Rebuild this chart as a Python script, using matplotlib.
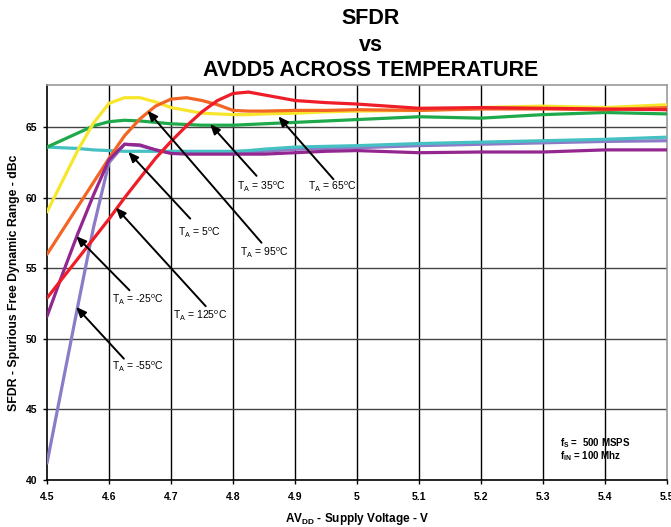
import matplotlib
matplotlib.use("Agg")
import matplotlib.pyplot as plt

plt.rcParams['font.family'] = ['Liberation Sans', 'DejaVu Sans']
plt.rcParams['mathtext.fontset'] = 'custom'
plt.rcParams['mathtext.rm'] = 'Liberation Sans'
plt.rcParams['mathtext.it'] = 'Liberation Sans:italic'
plt.rcParams['mathtext.bf'] = 'Liberation Sans:bold'

# ---------------- data ----------------
voltage = [4.50, 4.525, 4.55, 4.575, 4.60, 4.625, 4.65, 4.675, 4.70, 4.725, 4.75, 4.775,
           4.80, 4.825, 4.85, 4.90, 4.95, 5.0, 5.1, 5.2, 5.3, 5.4, 5.5]

sfdr_m55 = [41.2, 46.8, 52.4, 57.9, 62.5, 63.8, 63.7, 63.4, 63.2, 63.2, 63.2, 63.2,
            63.2, 63.25, 63.3, 63.45, 63.5, 63.55, 63.7, 63.8, 63.9, 64.0, 64.05]
sfdr_m25 = [51.6, 54.6, 57.5, 60.2, 62.7, 63.8, 63.75, 63.4, 63.15, 63.1, 63.1, 63.1,
            63.1, 63.1, 63.1, 63.2, 63.3, 63.35, 63.2, 63.25, 63.25, 63.4, 63.4]
sfdr_5 = [63.6, 63.55, 63.5, 63.4, 63.35, 63.3, 63.3, 63.3, 63.3, 63.3, 63.3, 63.3,
          63.3, 63.35, 63.45, 63.6, 63.65, 63.7, 63.85, 63.95, 64.05, 64.15, 64.3]
sfdr_35 = [63.6, 64.1, 64.6, 65.1, 65.4, 65.5, 65.45, 65.35, 65.25, 65.2, 65.15, 65.15,
           65.15, 65.2, 65.25, 65.35, 65.45, 65.55, 65.75, 65.65, 65.9, 66.05, 65.95]
sfdr_65 = [59.0, 61.2, 63.4, 65.3, 66.7, 67.1, 67.1, 66.8, 66.4, 66.2, 66.0, 65.95,
           65.9, 65.9, 65.95, 66.0, 66.1, 66.15, 66.2, 66.4, 66.5, 66.4, 66.6]
sfdr_95 = [56.0, 57.7, 59.4, 61.1, 62.8, 64.4, 65.6, 66.5, 67.0, 67.1, 66.9, 66.6,
           66.2, 66.15, 66.15, 66.2, 66.2, 66.25, 66.2, 66.3, 66.3, 66.25, 66.4]
sfdr_125 = [52.9, 54.3, 55.7, 57.1, 58.5, 60.0, 61.4, 62.8, 64.0, 65.1, 66.1, 66.9,
            67.4, 67.5, 67.3, 66.9, 66.75, 66.65, 66.35, 66.4, 66.35, 66.3, 66.25]

temps = ["-55", "-25", "5", "35", "65", "95", "125"]
x_ticks = [4.5, 4.6, 4.7, 4.8, 4.9, 5.0, 5.1, 5.2, 5.3, 5.4, 5.5]
x_tick_labels = ["4.5", "4.6", "4.7", "4.8", "4.9", "5", "5.1", "5.2", "5.3", "5.4", "5.5"]
y_ticks = [40, 45, 50, 55, 60, 65]

# ---------------- figure ----------------
fig = plt.figure(figsize=(6.71, 5.27), dpi=100)
ax = fig.add_axes([47 / 671, 1 - 480 / 527, 620 / 671, 395 / 527])

series = [
    (sfdr_m55, '#8C7BC6'),
    (sfdr_5, '#45C1C3'),
    (sfdr_35, '#1EA94B'),
    (sfdr_65, '#F7E62B'),
    (sfdr_95, '#F26524'),
    (sfdr_m25, '#93278F'),
    (sfdr_125, '#EE1D27'),
]
for vals, col in series:
    ax.plot(voltage, vals, color=col, lw=2.3, solid_capstyle='round', zorder=3)

ax.set_xlim(4.5, 5.5)
ax.set_ylim(40, 68)
ax.set_xticks(x_ticks)
ax.set_xticklabels(x_tick_labels)
ax.set_yticks(y_ticks)
for t in ax.get_xticklabels() + ax.get_yticklabels():
    t.set_fontweight('bold')
    t.set_fontsize(7.5)
ax.tick_params(axis='x', direction='out', length=3, width=1, color='black', pad=6)
ax.tick_params(axis='y', direction='out', length=3, width=1, color='black', pad=4)

for xv in x_ticks[1:-1]:
    ax.axvline(xv, color='black', lw=1.0, zorder=1)
for yv in y_ticks[1:]:
    ax.axhline(yv, color='#444444', lw=1.0, zorder=1)

ax.spines['left'].set_color('black')
ax.spines['bottom'].set_color('black')
ax.spines['top'].set_color('#999999')
ax.spines['right'].set_color('#999999')
for s in ax.spines.values():
    s.set_linewidth(1.2)

ax.set_ylabel('SFDR - Spurious Free Dynamic Range - dBc', fontsize=8.8,
              fontweight='bold', labelpad=4)
ax.set_xlabel(r'AV$_\mathbf{DD}$ - Supply Voltage - V', fontsize=8.5,
              fontweight='bold', labelpad=6)

# title
fig.text(371 / 671, 1 - 18 / 527, 'SFDR', ha='center', va='center', fontsize=15.5,
         fontweight='bold')
fig.text(371 / 671, 1 - 45 / 527, 'vs', ha='center', va='center', fontsize=15.5,
         fontweight='bold')
fig.text(371 / 671, 1 - 71 / 527, 'AVDD5 ACROSS TEMPERATURE', ha='center', va='center',
         fontsize=15.5, fontweight='bold')

# annotations: (label idx, tip, tail, text pos)
annots = [
    (3, (4.763, 65.23), (4.838, 61.56), (4.806, 60.75)),
    (4, (4.873, 65.78), (4.962, 61.32), (4.921, 60.75)),
    (2, (4.631, 63.26), (4.731, 58.53), (4.711, 57.55)),
    (5, (4.662, 66.18), (4.846, 56.82), (4.811, 56.13)),
    (6, (4.611, 59.31), (4.756, 52.32), (4.703, 51.66)),
    (1, (4.547, 57.29), (4.633, 53.45), (4.605, 52.79)),
    (0, (4.547, 52.27), (4.624, 48.60), (4.605, 48.03)),
]
for idx, tip, tail, tpos in annots:
    ax.annotate('', xy=tip, xytext=tail,
                arrowprops=dict(arrowstyle='-|>,head_length=0.6,head_width=0.25',
                                color='black', lw=1.4, shrinkA=0, shrinkB=0),
                zorder=4)
    ax.text(tpos[0], tpos[1], r'T$_\mathrm{A}$ = ' + temps[idx] + r'$^\mathrm{o}$C',
            fontsize=7.5, ha='left', va='center', zorder=5)

ax.text(5.327, 42.63, r'f$_\mathbf{S}$ =  500 MSPS', fontsize=7, fontweight='bold',
        ha='left', va='center')
ax.text(5.327, 41.70, r'f$_\mathbf{IN}$ = 100 Mhz', fontsize=7, fontweight='bold',
        ha='left', va='center')

fig.savefig('out.png', dpi=100)
